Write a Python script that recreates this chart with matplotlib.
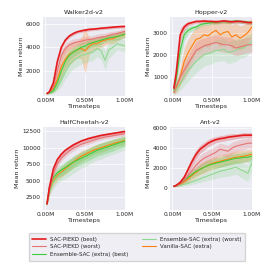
import numpy as np
import matplotlib
matplotlib.use("Agg")
import matplotlib.pyplot as plt
import seaborn as sns
from matplotlib.ticker import FuncFormatter

sns.set_style("darkgrid")
plt.rcParams["font.family"] = ["DejaVu Sans"]

# timesteps (millions)
steps = [0.02, 0.05, 0.10, 0.15, 0.20, 0.25, 0.30, 0.35, 0.40, 0.45, 0.50,
         0.55, 0.60, 0.65, 0.70, 0.75, 0.80, 0.85, 0.90, 0.95, 1.00]

labels = ["SAC-PIEKD (best)", "SAC-PIEKD (worst)", "Ensemble-SAC (extra) (best)",
          "Ensemble-SAC (extra) (worst)", "Vanilla-SAC (extra)"]
colors = ["#e41a1c", "#e57373", "#3ccc3c", "#8fd88f", "#ff7f0e"]

envs = ["Walker2d-v2", "Hopper-v2", "HalfCheetah-v2", "Ant-v2"]

# ---- Walker2d
walker_red_best = [100, 250, 1000, 2800, 4000, 4600, 4950, 5150, 5300, 5380, 5450,
                   5500, 5530, 5560, 5600, 5630, 5660, 5690, 5720, 5740, 5750]
walker_red_best_sd = [50, 80, 200, 250, 200, 150, 150, 150, 130, 130, 130,
                      130, 120, 120, 120, 120, 120, 120, 120, 120, 120]
walker_red_worst = [100, 200, 700, 2000, 3300, 3900, 4200, 4350, 4450, 4500, 4600,
                    4650, 4700, 4800, 4850, 4900, 5000, 5100, 5150, 5250, 5350]
walker_red_worst_sd = [50, 80, 300, 500, 500, 400, 350, 350, 300, 300, 300,
                       300, 300, 300, 300, 300, 300, 250, 250, 250, 250]
walker_green_best = [100, 150, 350, 1000, 2000, 2800, 3300, 3600, 3800, 4000, 4100,
                     4300, 4400, 4500, 4600, 4700, 4800, 4850, 4900, 5000, 5100]
walker_green_best_sd = [50, 60, 150, 400, 500, 500, 450, 400, 400, 400, 400,
                        350, 350, 350, 350, 300, 300, 300, 300, 300, 300]
walker_green_worst = [100, 120, 250, 600, 1200, 1900, 2500, 2900, 3100, 3300, 3400,
                      3500, 3600, 3900, 3700, 2900, 3800, 4000, 4300, 4200, 4100]
walker_green_worst_sd = [50, 60, 150, 300, 500, 600, 700, 700, 700, 700, 700,
                         700, 700, 700, 700, 800, 700, 600, 500, 500, 500]
walker_orange = [100, 200, 500, 1300, 2400, 3000, 3400, 3600, 3800, 3900, 3700,
                 4100, 4300, 4300, 4500, 4600, 4700, 4700, 4900, 5000, 5100]
walker_orange_sd = [50, 100, 300, 700, 900, 1000, 900, 800, 700, 900, 1900,
                    700, 500, 500, 500, 400, 400, 400, 400, 300, 300]

# ---- Hopper
hopper_red_best = [500, 1200, 2900, 3250, 3400, 3450, 3500, 3500, 3520, 3500, 3500,
                   3480, 3500, 3520, 3500, 3480, 3500, 3500, 3480, 3450, 3450]
hopper_red_best_sd = [100, 300, 300, 150, 100, 80, 80, 80, 80, 80, 80,
                      80, 80, 80, 80, 80, 80, 80, 80, 80, 80]
hopper_red_worst = [300, 600, 1000, 1300, 1600, 1900, 2200, 2300, 2400, 2450, 2500,
                    2550, 2500, 2450, 2450, 2400, 2300, 2350, 2400, 2450, 2450]
hopper_red_worst_sd = [100, 200, 300, 400, 400, 400, 400, 400, 350, 350, 350,
                       350, 350, 350, 350, 350, 350, 350, 350, 350, 350]
hopper_green_best = [400, 900, 2200, 2900, 3100, 3200, 3250, 3350, 3400, 3420, 3450,
                     3450, 3480, 3500, 3480, 3500, 3520, 3500, 3480, 3470, 3450]
hopper_green_best_sd = [100, 300, 400, 250, 150, 120, 100, 100, 80, 80, 80,
                        80, 80, 80, 80, 80, 80, 80, 80, 80, 80]
hopper_green_worst = [300, 450, 700, 1000, 1300, 1500, 1700, 1850, 2000, 2050, 2100,
                      2200, 2200, 2250, 2100, 2150, 2200, 2300, 2300, 2450, 2600]
hopper_green_worst_sd = [100, 200, 300, 400, 500, 500, 500, 500, 500, 500, 500,
                         500, 500, 500, 500, 500, 500, 450, 450, 450, 400]
hopper_orange = [300, 500, 1000, 1700, 2100, 2400, 2700, 2750, 2900, 2850, 3000,
                 3100, 2900, 3000, 3050, 2800, 2900, 2750, 2850, 3000, 3250]
hopper_orange_sd = [100, 200, 400, 600, 600, 600, 550, 550, 500, 500, 500,
                    500, 550, 500, 500, 550, 550, 550, 500, 450, 400]

# ---- HalfCheetah
cheetah_red_best = [1500, 4000, 6800, 8200, 9000, 9600, 10000, 10400, 10700, 11000, 11200,
                    11400, 11550, 11700, 11850, 11950, 12050, 12150, 12250, 12350, 12450]
cheetah_red_best_sd = [200, 400, 500, 400, 350, 300, 300, 300, 250, 250, 250,
                       250, 250, 250, 200, 200, 200, 200, 200, 200, 200]
cheetah_red_worst = [1500, 3500, 6000, 7500, 8400, 9000, 9500, 9900, 10200, 10500, 10700,
                     10900, 11100, 11300, 11450, 11600, 11700, 11800, 11900, 12000, 12100]
cheetah_red_worst_sd = [200, 500, 600, 500, 450, 400, 400, 400, 350, 350, 350,
                        350, 350, 300, 300, 300, 300, 300, 300, 300, 300]
cheetah_green_best = [1500, 4000, 5500, 6200, 6600, 7000, 7400, 7800, 8100, 8400, 8700,
                      9000, 9300, 9600, 9800, 10000, 10200, 10400, 10600, 10800, 11000]
cheetah_green_best_sd = [200, 500, 700, 800, 900, 900, 900, 900, 900, 900, 900,
                         900, 900, 900, 900, 900, 900, 900, 850, 850, 800]
cheetah_green_worst = [1400, 3200, 4800, 5600, 6100, 6500, 6900, 7300, 7700, 8100, 8400,
                       8700, 9000, 9300, 9500, 9700, 9900, 10100, 10300, 10500, 10700]
cheetah_green_worst_sd = [200, 600, 900, 1000, 1100, 1200, 1200, 1200, 1200, 1200, 1200,
                          1200, 1200, 1200, 1200, 1150, 1100, 1100, 1100, 1000, 1000]
cheetah_orange = [1500, 3500, 5000, 5800, 6300, 6800, 7300, 7800, 8300, 8700, 9000,
                  9300, 9600, 9800, 10000, 10200, 10400, 10600, 10800, 10900, 11100]
cheetah_orange_sd = [200, 500, 700, 800, 800, 800, 800, 800, 800, 800, 750,
                     750, 700, 700, 700, 700, 650, 650, 600, 600, 600]

# ---- Ant
ant_red_best = [200, 300, 600, 1100, 1900, 2700, 3400, 3900, 4200, 4500, 4700,
                4850, 4950, 5000, 5100, 5150, 5200, 5250, 5300, 5300, 5300]
ant_red_best_sd = [50, 80, 200, 300, 400, 450, 450, 400, 400, 350, 350,
                   300, 300, 300, 300, 300, 250, 250, 250, 250, 250]
ant_red_worst = [200, 250, 450, 800, 1300, 1800, 2300, 2700, 3000, 3200, 3400,
                 3600, 3900, 3800, 3700, 4000, 4200, 4300, 4400, 4500, 4500]
ant_red_worst_sd = [50, 80, 200, 300, 400, 500, 550, 600, 600, 600, 600,
                    600, 600, 600, 600, 600, 550, 550, 550, 500, 500]
ant_green_best = [200, 300, 500, 800, 1100, 1400, 1700, 1900, 2100, 2300, 2400,
                  2500, 2600, 2700, 2800, 2900, 3000, 3000, 3100, 3100, 3200]
ant_green_best_sd = [50, 80, 150, 250, 350, 400, 450, 500, 500, 500, 500,
                     500, 500, 500, 500, 500, 500, 500, 500, 500, 500]
ant_green_worst = [200, 220, 300, 400, 500, 650, 800, 950, 1100, 1250, 1400,
                   1550, 1700, 1800, 1900, 2000, 2100, 1900, 1700, 1500, 2500]
ant_green_worst_sd = [50, 60, 100, 150, 200, 250, 300, 350, 400, 450, 500,
                      550, 600, 650, 700, 700, 700, 750, 800, 800, 700]
ant_orange = [200, 250, 400, 650, 950, 1300, 1600, 1900, 2100, 2300, 2500,
              2600, 2700, 2800, 2900, 3000, 3100, 3150, 3200, 3300, 3400]
ant_orange_sd = [50, 80, 150, 250, 350, 450, 500, 550, 600, 600, 600,
                 600, 600, 600, 600, 600, 600, 600, 600, 550, 500]

means = {
    "Walker2d-v2": [walker_red_best, walker_red_worst, walker_green_best, walker_green_worst, walker_orange],
    "Hopper-v2": [hopper_red_best, hopper_red_worst, hopper_green_best, hopper_green_worst, hopper_orange],
    "HalfCheetah-v2": [cheetah_red_best, cheetah_red_worst, cheetah_green_best, cheetah_green_worst, cheetah_orange],
    "Ant-v2": [ant_red_best, ant_red_worst, ant_green_best, ant_green_worst, ant_orange],
}
sds = {
    "Walker2d-v2": [walker_red_best_sd, walker_red_worst_sd, walker_green_best_sd, walker_green_worst_sd, walker_orange_sd],
    "Hopper-v2": [hopper_red_best_sd, hopper_red_worst_sd, hopper_green_best_sd, hopper_green_worst_sd, hopper_orange_sd],
    "HalfCheetah-v2": [cheetah_red_best_sd, cheetah_red_worst_sd, cheetah_green_best_sd, cheetah_green_worst_sd, cheetah_orange_sd],
    "Ant-v2": [ant_red_best_sd, ant_red_worst_sd, ant_green_best_sd, ant_green_worst_sd, ant_orange_sd],
}

ylims = {"Walker2d-v2": (-100, 6550), "Hopper-v2": (150, 3700),
         "HalfCheetah-v2": (600, 13100), "Ant-v2": (-2150, 6100)}
yticks = {"Walker2d-v2": [2000, 4000, 6000], "Hopper-v2": [1000, 2000, 3000],
          "HalfCheetah-v2": [2500, 5000, 7500, 10000, 12500], "Ant-v2": [0, 2000, 4000, 6000]}

fig = plt.figure(figsize=(2.74, 2.74), dpi=100)
positions = [(0.157, 0.650, 0.299, 0.288), (0.620, 0.650, 0.299, 0.288),
             (0.157, 0.234, 0.299, 0.302), (0.620, 0.234, 0.299, 0.302)]

x = np.array(steps) * 1e6
draw_order = [4, 3, 2, 1, 0]
lines = {}
for env, pos in zip(envs, positions):
    ax = fig.add_axes(pos)
    for i in draw_order:
        m = np.array(means[env][i])
        s = np.array(sds[env][i])
        ax.fill_between(x, m - s, m + s, color=colors[i], alpha=0.25, linewidth=0)
        lw = 1.2 if i == 0 else 0.8
        ln, = ax.plot(x, m, color=colors[i], linewidth=lw, label=labels[i])
        lines[i] = ln
    ax.set_xlim(-0.03e6, 1.0e6)
    ax.set_ylim(*ylims[env])
    ax.set_xticks([0, 0.5e6, 1.0e6])
    ax.xaxis.set_major_formatter(FuncFormatter(lambda v, p: "%.2fM" % (v / 1e6)))
    ax.set_yticks(yticks[env])
    ax.tick_params(labelsize=4.2, pad=1.5, length=0)
    ax.set_title(env, fontsize=4.6, pad=2)
    ax.set_xlabel("Timesteps", fontsize=4.6, labelpad=1)
    ax.set_ylabel("Mean return", fontsize=4.6, labelpad=1.5)
    for sp in ax.spines.values():
        sp.set_visible(False)
    ax.grid(linewidth=0.5)

fig.legend([lines[i] for i in range(5)], labels, loc="upper center",
           bbox_to_anchor=(0.5, 0.16), ncol=2, fontsize=4, handlelength=2.4,
           columnspacing=2.5, borderpad=0.7, labelspacing=0.45)

plt.savefig("out.png", dpi=100)
plt.close()
